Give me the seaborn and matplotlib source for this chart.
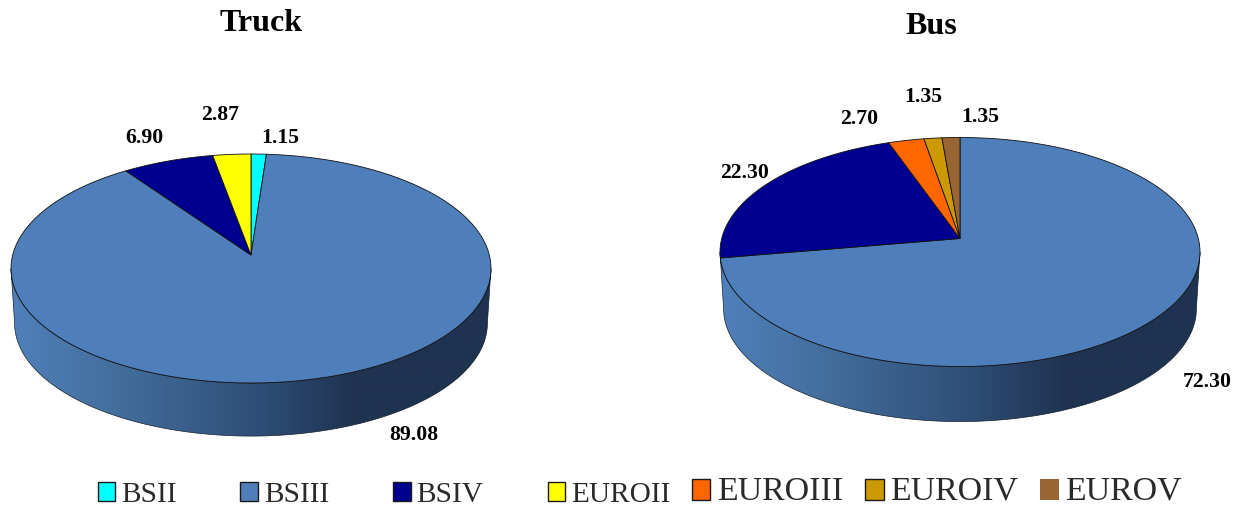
import numpy as np
import matplotlib
matplotlib.use("Agg")
import matplotlib.pyplot as plt
import seaborn as sns
from matplotlib.colors import LinearSegmentedColormap
from matplotlib.patches import Patch, Polygon
from matplotlib.path import Path
from matplotlib.transforms import Affine2D, Transform

# ---- data ----
truck_categories = ["BSII", "BSIII", "BSIV", "EUROII"]
truck_values = [1.15, 89.08, 6.90, 2.87]
bus_categories = ["BSIII", "BSIV", "EUROIII", "EUROIV", "EUROV"]
bus_values = [72.30, 22.30, 2.70, 1.35, 1.35]
legend_first = ["BSII", "BSIII", "BSIV", "EUROII"]
legend_second = ["EUROIII", "EUROIV", "EUROV"]
category_colors = ["#00ffff", "#4f7fbb", "#000090", "#ffff00",
                   "#ff6600", "#cc9900", "#996633"]

sns.set_theme(style="white")
plt.rcParams["font.family"] = ["Liberation Serif", "DejaVu Sans"]
palette = dict(zip(legend_first + legend_second, sns.color_palette(category_colors)))

W, H = 1239, 510
K, A, B = 0.1179, 238.3, 112.9    # perspective of the tilted disc
DEPTH_SCALE = 0.985


class Tilt(Transform):
    """Perspective view of the unit disc, in pixel coordinates of the axes."""
    input_dims = output_dims = 2
    is_affine = False
    has_inverse = False

    def __init__(self, cx, cy, scale=1.0, drop=0.0):
        super().__init__()
        self.cx, self.cy, self.scale, self.drop = cx, cy, scale, drop

    def transform_non_affine(self, values):
        v = np.asarray(values, float)
        w = 1 + K * v[:, 1]
        return np.column_stack([
            self.cx + self.scale * A * v[:, 0] / w,
            self.cy - self.scale * B * v[:, 1] / w + self.drop,
        ])

    def transform_path_non_affine(self, path):
        big = Affine2D().scale(2000).transform_path(path)
        poly = big.to_polygons(closed_only=True)[0] / 2000
        return Path(self.transform_non_affine(poly), closed=True)


wall_cmap = LinearSegmentedColormap.from_list(
    "wall",
    [(0.0, "#4f80ba"), (0.20, "#44709f"), (0.50, "#30507a"),
     (0.72, "#1f3350"), (1.0, "#1f3350")],
)


def draw_disc(ax, values, names, cx, cy, drop):
    # side wall
    start = np.arctan2(-K, -np.sqrt(1 - K ** 2))
    end = np.arctan2(-K, np.sqrt(1 - K ** 2))
    if start > end:
        start -= 2 * np.pi
    theta = np.linspace(start, end, 240)
    rim = np.column_stack([np.cos(theta), np.sin(theta)])
    upper = Tilt(cx, cy).transform_non_affine(rim)
    lower = Tilt(cx, cy, DEPTH_SCALE, drop).transform_non_affine(rim)
    outline = np.vstack([upper, lower[::-1]])
    shape = Polygon(outline, closed=True, facecolor="none", edgecolor="#15202e",
                    linewidth=0.5, zorder=0.8)
    ax.add_patch(shape)
    gradient = np.linspace(0, 1, 256).reshape(1, -1)
    image = ax.imshow(gradient, cmap=wall_cmap, aspect="auto", zorder=0.6,
                      extent=(cx - 240, cx + 240, cy + 190, cy - 20))
    image.set_clip_path(shape)

    # top face
    wedges, _ = ax.pie(values, colors=[palette[n] for n in names],
                       startangle=90, counterclock=False, radius=1.0,
                       wedgeprops={"edgecolor": "#101010", "linewidth": 0.6})
    tilt = Tilt(cx, cy) + ax.transData
    for wedge in wedges:
        wedge.set_transform(tilt)
        wedge.set_zorder(2)


fig = plt.figure(figsize=(W / 100, H / 100), dpi=100, facecolor="white")
split = 620
ax_truck = fig.add_axes([0, 0, split / W, 1])
ax_bus = fig.add_axes([split / W, 0, 1 - split / W, 1])

draw_disc(ax_truck, truck_values, truck_categories, 251, 256, 55)
draw_disc(ax_bus, bus_values, bus_categories, 960, 239.5, 57)

for ax, lim in ((ax_truck, (0, split)), (ax_bus, (split, W))):
    ax.set_aspect("auto")
    ax.set_xlim(*lim)
    ax.set_ylim(H, 0)
    ax.axis("off")

# titles
title_style = dict(fontsize=23, fontweight="bold", color="black", ha="center", va="baseline")
ax_truck.text(261, 31, "Truck", **title_style)
ax_bus.text(931.5, 34, "Bus", **title_style)

# value labels
label_style = dict(fontsize=15.7, fontweight="bold", color="black", ha="center", va="center")
truck_label_xy = [(280, 138.5), (414, 435.5), (144, 138.5), (220, 115.5)]
bus_label_xy = [(1207, 382.5), (745, 173.5), (859, 119.5), (923, 96.5), (980, 116.5)]
for v, (x, y) in zip(truck_values, truck_label_xy):
    ax_truck.text(x, y, f"{v:.2f}", **label_style)
for v, (x, y) in zip(bus_values, bus_label_xy):
    ax_bus.text(x, y, f"{v:.2f}", **label_style)


# legends
def handles(names):
    return [Patch(facecolor=palette[n], edgecolor="#6b4a2a" if n == "EUROV" else "#1a1a1a",
                  linewidth=0 if n == "EUROV" else 1.0, label=n) for n in names]


leg1 = fig.legend(handles=handles(legend_first), loc="center left", ncols=4,
                  bbox_to_anchor=(97.5 / W, 1 - 495 / H), frameon=False, borderpad=0,
                  borderaxespad=0, fontsize=21.2, handlelength=0.6, handleheight=0.64,
                  handletextpad=0.2, columnspacing=2.17, labelcolor="#2a2a2a")
leg2 = fig.legend(handles=handles(legend_second), loc="center left", ncols=3,
                  bbox_to_anchor=(691.5 / W, 1 - 491.5 / H), frameon=False, borderpad=0,
                  borderaxespad=0, fontsize=24.4, handlelength=0.56, handleheight=0.58,
                  handletextpad=0.18, columnspacing=0.65, labelcolor="#2a2a2a")
for h in leg1.legend_handles:
    h.set_y(h.get_y() - 0.7)
for h in leg2.legend_handles:
    h.set_y(h.get_y() - 2.2)

fig.savefig("out.png", dpi=100, facecolor="white")
